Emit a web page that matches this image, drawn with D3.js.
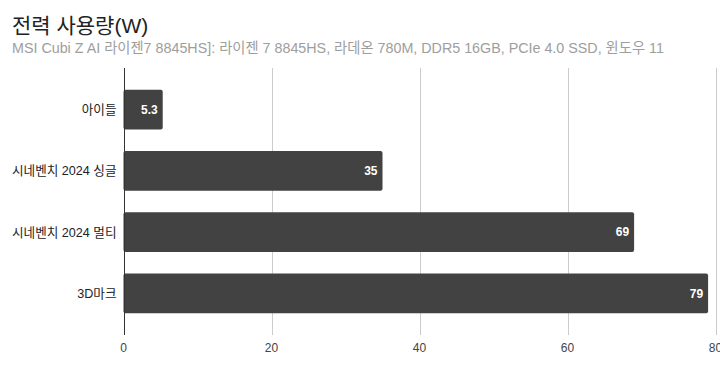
<!DOCTYPE html>
<html>
<head>
<meta charset="utf-8">
<script src="https://cdn.jsdelivr.net/npm/d3@7"></script>
<style>
  body { margin: 0; background: #fff; }
  text { font-family: 'Liberation Sans', Arial, 'Noto Sans CJK KR', sans-serif; }
</style>
</head>
<body>
<div id="content"></div>
<script>
'use strict';

var categories = ['아이들', '시네벤치 2024 싱글', '시네벤치 2024 멀티', '3D마크'];
var values = [5.3, 35, 69, 79];
var valueLabels = ['5.3', '35', '69', '79'];
var xTicks = [0, 20, 40, 60, 80];
var titleText = '전력 사용량(W)';
var subtitleText = 'MSI Cubi Z AI 라이젠7 8845HS]: 라이젠 7 8845HS, 라데온 780M, DDR5 16GB, PCIe 4.0 SSD, 윈도우 11';

function run() {
    var width = 720, height = 370;
    var plot = { left: 123.5, right: 715.5, top: 68, bottom: 335 };

    var svg = d3.select('#content')
        .append('svg')
        .attr('width', width)
        .attr('height', height);

    svg.append('text')
        .attr('x', 12)
        .attr('y', 33)
        .style('font-size', '21px')
        .style('fill', '#222')
        .text(titleText);

    svg.append('text')
        .attr('x', 12)
        .attr('y', 53)
        .style('font-size', '14.3px')
        .style('fill', '#9e9e9e')
        .text(subtitleText);

    var x = d3.scaleLinear()
        .domain([0, 80])
        .range([plot.left, plot.right]);

    var y = d3.scaleBand()
        .domain(categories)
        .range([plot.top, plot.bottom])
        .paddingInner(0.35)
        .paddingOuter(0.355);

    // gridlines
    svg.append('g')
        .selectAll('line')
        .data(xTicks.slice(1))
        .enter()
        .append('line')
        .attr('x1', function (d) { return Math.round(x(d)) + 0.5; })
        .attr('x2', function (d) { return Math.round(x(d)) + 0.5; })
        .attr('y1', plot.top)
        .attr('y2', plot.bottom)
        .style('stroke', '#cccccc')
        .style('stroke-width', 1);

    var bars = svg.append('g')
        .selectAll('g')
        .data(categories)
        .enter()
        .append('g');

    bars.append('rect')
        .attr('x', x(0))
        .attr('y', function (d) { return y(d); })
        .attr('width', function (d, i) { return x(values[i]) - x(0); })
        .attr('height', y.bandwidth())
        .attr('rx', 2)
        .style('fill', '#424242');

    bars.append('text')
        .attr('x', function (d, i) { return x(values[i]) - 5; })
        .attr('y', function (d) { return y(d) + y.bandwidth() / 2; })
        .attr('dy', '.35em')
        .style('text-anchor', 'end')
        .style('font-size', '12px')
        .style('font-weight', 'bold')
        .style('fill', '#fff')
        .text(function (d, i) { return valueLabels[i]; });

    // category labels
    svg.append('g')
        .selectAll('text')
        .data(categories)
        .enter()
        .append('text')
        .attr('x', plot.left - 7)
        .attr('y', function (d) { return y(d) + y.bandwidth() / 2; })
        .attr('dy', '.35em')
        .style('text-anchor', 'end')
        .style('font-size', '12.6px')
        .style('fill', '#222')
        .text(function (d) { return d; });

    // baseline at zero
    svg.append('line')
        .attr('x1', Math.round(x(0)) + 0.5)
        .attr('x2', Math.round(x(0)) + 0.5)
        .attr('y1', plot.top)
        .attr('y2', plot.bottom)
        .style('stroke', '#333')
        .style('stroke-width', 1);

    svg.append('g')
        .selectAll('text')
        .data(xTicks)
        .enter()
        .append('text')
        .attr('x', function (d) { return x(d); })
        .attr('y', 352)
        .style('text-anchor', 'middle')
        .style('font-size', '12px')
        .style('fill', '#444')
        .text(function (d) { return d; });
}

document.addEventListener('DOMContentLoaded', run);
</script>
</body>
</html>
